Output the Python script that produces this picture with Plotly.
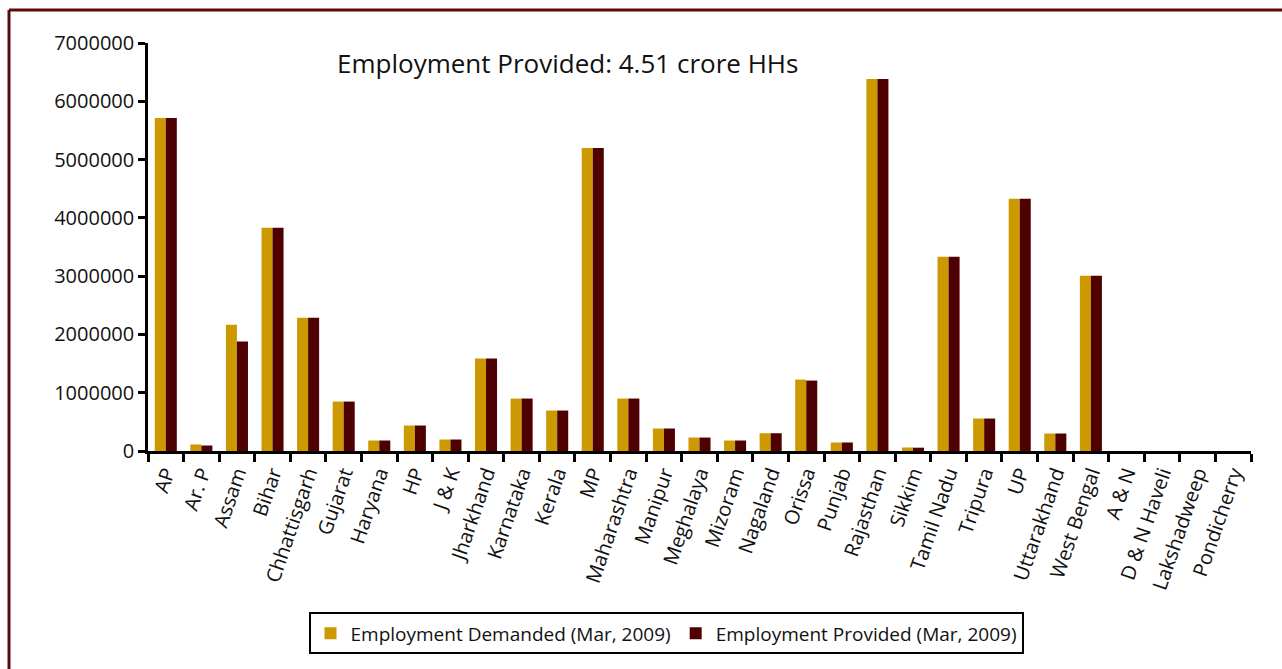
import plotly.graph_objects as go

states = [
    "AP", "Ar. P", "Assam", "Bihar", "Chhattisgarh", "Gujarat", "Haryana", "HP",
    "J & K", "Jharkhand", "Karnataka", "Kerala", "MP", "Maharashtra", "Manipur",
    "Meghalaya", "Mizoram", "Nagaland", "Orissa", "Punjab", "Rajasthan", "Sikkim",
    "Tamil Nadu", "Tripura", "UP", "Uttarakhand", "West Bengal", "A & N",
    "D & N Haveli", "Lakshadweep", "Pondicherry",
]

demanded = [
    5715000, 112000, 2168000, 3830000, 2288000, 848000, 180000, 437000,
    197000, 1585000, 900000, 694000, 5200000, 900000, 386000,
    231000, 180000, 305000, 1225000, 146000, 6384000, 60000,
    3333000, 557000, 4327000, 300000, 3008000, 0,
    0, 0, 0,
]

provided = [
    5715000, 94000, 1877000, 3830000, 2288000, 848000, 180000, 437000,
    197000, 1585000, 900000, 694000, 5200000, 900000, 386000,
    231000, 180000, 305000, 1208000, 146000, 6384000, 57000,
    3333000, 557000, 4327000, 300000, 3008000, 0,
    0, 0, 0,
]

y_ticks = [0, 1000000, 2000000, 3000000, 4000000, 5000000, 6000000, 7000000]

FONT = "Open Sans"
GOLD = "#CC9900"
MAROON = "#4F0000"

fig = go.Figure()
fig.add_trace(go.Bar(x=states, y=demanded, name="Employment Demanded (Mar, 2009)",
                     marker=dict(color=GOLD, line=dict(width=0))))
fig.add_trace(go.Bar(x=states, y=provided, name="Employment Provided (Mar, 2009)",
                     marker=dict(color=MAROON, line=dict(width=0))))

# plot area in pixels: x 148..1251, y 43..451.5
L, R, T, B = 148, 1251, 43, 451.5
W, H = R - L, B - T


def px(xp):
    return (xp - L) / W


def py(yp):
    return (B - yp) / H


fig.update_layout(
    width=1282, height=669,
    margin=dict(l=L, r=1282 - R, t=T, b=669 - B),
    paper_bgcolor="white", plot_bgcolor="white",
    font=dict(family=FONT, color="#111111"),
    barmode="group", bargap=0.38, bargroupgap=0,
    showlegend=True,
    legend=dict(orientation="h", x=px(666), y=py(634), xanchor="center", yanchor="middle",
                bordercolor="#000000", borderwidth=2, bgcolor="white",
                font=dict(family=FONT, size=19, color="#111111"),
                itemsizing="constant", traceorder="normal"),
    xaxis=dict(
        range=[-0.5, len(states) - 0.5],
        showline=True, linecolor="#000000", linewidth=2.5,
        ticks="outside", ticklen=8, tickwidth=2.5, tickcolor="#000000",
        tickson="boundaries", tickangle=-71,
        tickfont=dict(family=FONT, size=20, color="#111111"),
        showgrid=False, zeroline=False,
    ),
    yaxis=dict(
        range=[0, 7000000],
        tickvals=y_ticks, ticktext=[str(v) for v in y_ticks],
        showline=True, linecolor="#000000", linewidth=2.5,
        ticks="outside", ticklen=7, tickwidth=2.5, tickcolor="#000000",
        tickfont=dict(family=FONT, size=20, color="#111111"),
        showgrid=False, zeroline=False,
    ),
    annotations=[
        dict(text="Employment Provided: 4.51 crore HHs", xref="paper", yref="paper",
             x=px(335), y=py(63), xanchor="left", yanchor="middle", showarrow=False,
             font=dict(family=FONT, size=26, color="#111111")),
    ],
    shapes=[
        dict(type="line", xref="paper", yref="paper", x0=px(9), x1=px(1300), y0=py(10), y1=py(10),
             line=dict(color="#5C0A0A", width=3)),
        dict(type="line", xref="paper", yref="paper", x0=px(9), x1=px(9), y0=py(10), y1=py(700),
             line=dict(color="#5C0A0A", width=3)),
    ],
)

fig.write_html("out.html")
